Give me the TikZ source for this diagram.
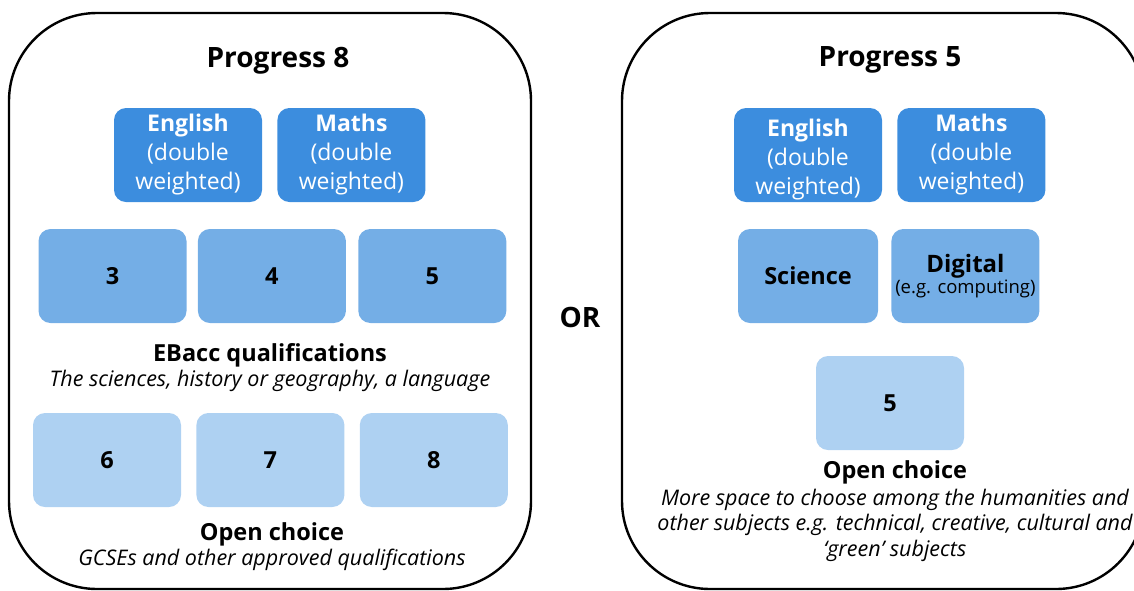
\documentclass[tikz,border=0pt]{standalone}
\usepackage{fontspec}
\setmainfont{Open Sans}
\usetikzlibrary{positioning}
\definecolor{subjdark}{HTML}{3C8DDE}
\definecolor{subjmid}{HTML}{74AEE6}
\definecolor{subjlight}{HTML}{AED1F2}

\begin{document}
\begin{tikzpicture}[x=1pt, y=-1pt,
        node distance=15pt,
        panel/.style={draw, line width=2.4pt, rounded corners=88pt},
        title/.style={font=\fontsize{28}{34}\selectfont\bfseries, inner sep=0pt, anchor=base},
        core/.style={rectangle, fill=subjdark, rounded corners=12pt, minimum width=148pt, minimum height=94pt,
            align=center, text=white, font=\fontsize{23}{29}\selectfont, inner sep=0pt},
        ebacc/.style={core, fill=subjmid, text=black, font=\fontsize{23.5}{29}\selectfont\bfseries},
        open/.style={ebacc, fill=subjlight},
        heading/.style={font=\fontsize{23.5}{29}\selectfont\bfseries, inner sep=0pt, anchor=base},
        note/.style={font=\fontsize{21.5}{25.5}\selectfont\itshape, align=center, inner sep=0pt}
    ]
        \useasboundingbox (0,0) rectangle (1134,590);
        \clip (0,0) rectangle (1134,590);

        % Progress 8
        \draw[panel] (9,13) rectangle (531,589);
        \node[title] (p8) at (278,67) {Progress 8};
        \node[core] (eng8) at (188,155) {\textbf{English}\\(double\\weighted)};
        \node[core, right=of eng8] (maths8) {\textbf{Maths}\\(double\\weighted)};
        \node[ebacc] (ebacc3) at (112.5,276) {3};
        \node[ebacc, right=11pt of ebacc3] (ebacc4) {4};
        \node[ebacc, right=12pt of ebacc4] (ebacc5) {5};
        \node[heading] (ebacchead) at (270,361) {EBacc qualifications};
        \node[note, anchor=base] (ebaccnote) at (270,386) {The sciences, history or geography, a language};
        \node[open] (open6) at (107,460) {6};
        \node[open, right=of open6] (open7) {7};
        \node[open, right=of open7] (open8) {8};
        \node[heading] (openhead8) at (272,540) {Open choice};
        \node[note, anchor=base] (opennote8) at (272,565) {GCSEs and other approved qualifications};

        \node[title] (or) at (580,327) {OR};

        % Progress 5
        \draw[panel] (622,13) rectangle (1144,589);
        \node[title] (p5) at (890,66) {Progress 5};
        \node[core] (eng5) at (808,155) {};
        \node[text=white, align=center, font=\fontsize{23}{29}\selectfont, inner sep=0pt] (eng5txt)
            at ([yshift=-5pt]eng5.center) {\textbf{English}\\(double\\weighted)};
        \node[core, right=of eng5] (maths5) {\textbf{Maths}\\(double\\weighted)};
        \node[ebacc, minimum width=140pt] (science) at (808,276) {Science};
        \node[ebacc, right=13pt of science, font=\fontsize{24}{24}\selectfont] (digital)
            {\textbf{Digital}\\[-3pt]{\fontsize{18.5}{19}\selectfont (e.g. computing)}};
        \node[open] (open5) at (890,403) {5};
        \node[heading] (openhead5) at (895,478) {Open choice};
        \node[note] (opennote5) at (895,525) {More space to choose among the humanities and\\other subjects e.g. technical, creative, cultural and\\‘green’ subjects};
    \end{tikzpicture}
\end{document}
